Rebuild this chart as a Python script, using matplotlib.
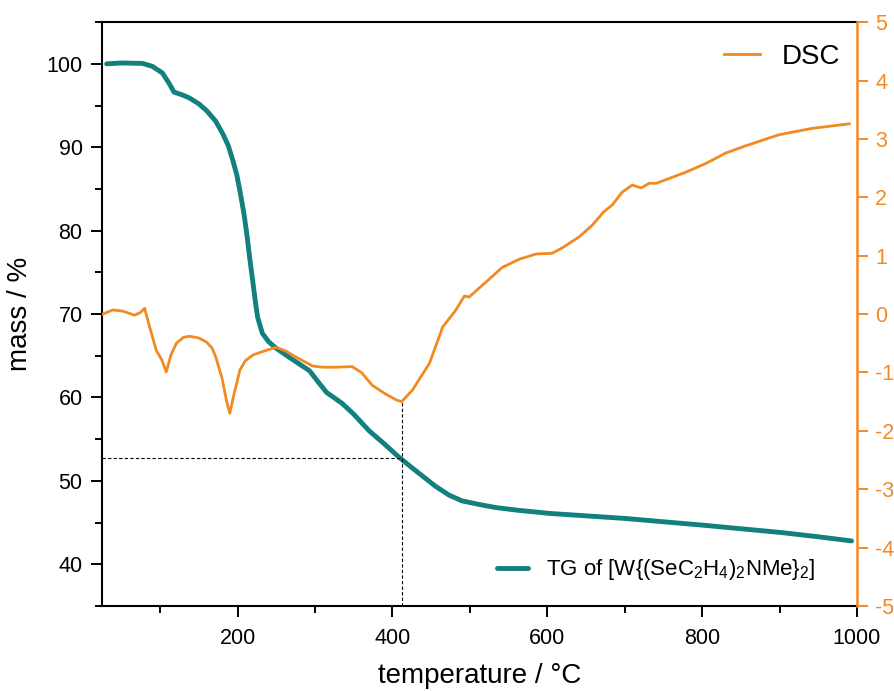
import matplotlib
matplotlib.use("Agg")
import matplotlib.pyplot as plt
from matplotlib.ticker import MultipleLocator

plt.rcParams['font.family'] = ['Liberation Sans', 'DejaVu Sans']
plt.rcParams['mathtext.fontset'] = 'custom'
plt.rcParams['mathtext.rm'] = 'Liberation Sans'
plt.rcParams['mathtext.it'] = 'Liberation Sans:italic'
plt.rcParams['axes.unicode_minus'] = False

TEAL = '#11807e'
ORANGE = '#f28a22'

# TG curve (mass %)
tg_temp = [31, 50, 77, 90, 103, 112, 118, 128, 138, 150, 160, 172, 181, 188, 194,
           199, 203, 208, 212, 216, 220, 223, 226, 232, 240, 250, 267, 280, 293,
           303, 315, 335, 350, 370, 390, 409, 425, 440, 455, 473, 490, 516, 534,
           560, 603, 700, 800, 903, 950, 993]
tg_mass = [100.0, 100.1, 100.05, 99.7, 98.9, 97.6, 96.6, 96.3, 95.9, 95.2, 94.4,
           93.1, 91.6, 90.2, 88.4, 86.7, 84.8, 82.2, 79.6, 76.5, 73.7, 71.5, 69.6,
           67.7, 66.7, 65.9, 64.8, 64.0, 63.2, 62.0, 60.6, 59.3, 58.0, 56.0, 54.4,
           52.8, 51.6, 50.5, 49.4, 48.3, 47.6, 47.1, 46.8, 46.5, 46.1, 45.5, 44.7,
           43.8, 43.3, 42.8]

# DSC curve (right axis)
dsc_temp = [26, 39, 52, 67, 75, 80, 85, 95, 102, 108, 114, 121, 130, 138, 150,
            160, 167, 172, 180, 186, 190, 195, 203, 210, 220, 235, 250, 262, 276,
            297, 310, 328, 348, 360, 374, 390, 405, 412, 426, 448, 465, 475, 482,
            493, 499, 521, 542, 564, 586, 606, 619, 641, 658, 673, 684, 697, 710,
            721, 732, 741, 779, 805, 831, 856, 899, 942, 985, 990]
dsc_val = [0.0, 0.07, 0.05, -0.02, 0.03, 0.1, -0.15, -0.62, -0.78, -0.99, -0.7,
           -0.5, -0.4, -0.38, -0.41, -0.48, -0.58, -0.74, -1.1, -1.5, -1.7, -1.4,
           -0.96, -0.8, -0.7, -0.63, -0.57, -0.63, -0.74, -0.89, -0.91, -0.91,
           -0.9, -1.0, -1.22, -1.36, -1.47, -1.5, -1.3, -0.84, -0.22, -0.05, 0.07,
           0.31, 0.29, 0.55, 0.8, 0.94, 1.03, 1.04, 1.13, 1.32, 1.52, 1.75, 1.87,
           2.09, 2.21, 2.16, 2.24, 2.24, 2.43, 2.58, 2.76, 2.88, 3.07, 3.18, 3.25,
           3.26]

# guide lines
mark_temp = 412
mark_mass = 52.8
mark_dsc = -1.5

fig = plt.figure(figsize=(8.95, 6.91), dpi=100)
ax = fig.add_axes([0.114, 0.123, 0.8435, 0.845])
ax2 = ax.twinx()

ax.plot(tg_temp, tg_mass, color=TEAL, lw=3.5, solid_capstyle='round',
        label=r'TG of [W{(SeC$_2$H$_4$)$_2$NMe}$_2$]')
ax.plot([25, mark_temp], [mark_mass, mark_mass], color='black', lw=0.8,
        ls=(0, (3, 2)))
ax2.plot([mark_temp, mark_temp], [-5, mark_dsc], color='black', lw=0.8,
         ls=(0, (3, 2)))
ax2.plot(dsc_temp, dsc_val, color=ORANGE, lw=2, label='DSC')

ax.set_xlim(25, 1000)
ax.set_ylim(35, 105)
ax2.set_ylim(-5, 5)

ax.xaxis.set_major_locator(MultipleLocator(200))
ax.xaxis.set_minor_locator(MultipleLocator(100))
ax.yaxis.set_major_locator(MultipleLocator(10))
ax.yaxis.set_minor_locator(MultipleLocator(5))
ax.set_yticks(range(40, 101, 10))
ax2.yaxis.set_major_locator(MultipleLocator(1))

ax.tick_params(which='major', direction='out', length=8, width=1.4,
               labelsize=15.5, pad=6)
ax.tick_params(which='minor', direction='out', length=5, width=1.4)
ax.tick_params(axis='x', which='major', pad=8)
ax2.tick_params(which='major', direction='out', length=8, width=1.4,
                labelsize=15.5, pad=5, color=ORANGE, labelcolor=ORANGE)

for side in ['left', 'bottom', 'top']:
    ax.spines[side].set_linewidth(1.5)
    ax2.spines[side].set_visible(False)
ax.spines['right'].set_visible(False)
ax2.spines['right'].set_color(ORANGE)
ax2.spines['right'].set_linewidth(1.8)

ax.set_xlabel('temperature / °C', fontsize=20, labelpad=10)
ax.set_ylabel('mass / %', fontsize=20, labelpad=10)

ax.legend(loc='center right', bbox_to_anchor=(0.945, 0.062), frameon=False,
          fontsize=16, handlelength=1.4, handletextpad=0.8, borderpad=0,
          borderaxespad=0)
ax2.legend(loc='center right', bbox_to_anchor=(0.978, 0.94), frameon=False,
           fontsize=20, handlelength=1.3, handletextpad=0.8, borderpad=0,
           borderaxespad=0)

fig.savefig('out.png', dpi=100)
